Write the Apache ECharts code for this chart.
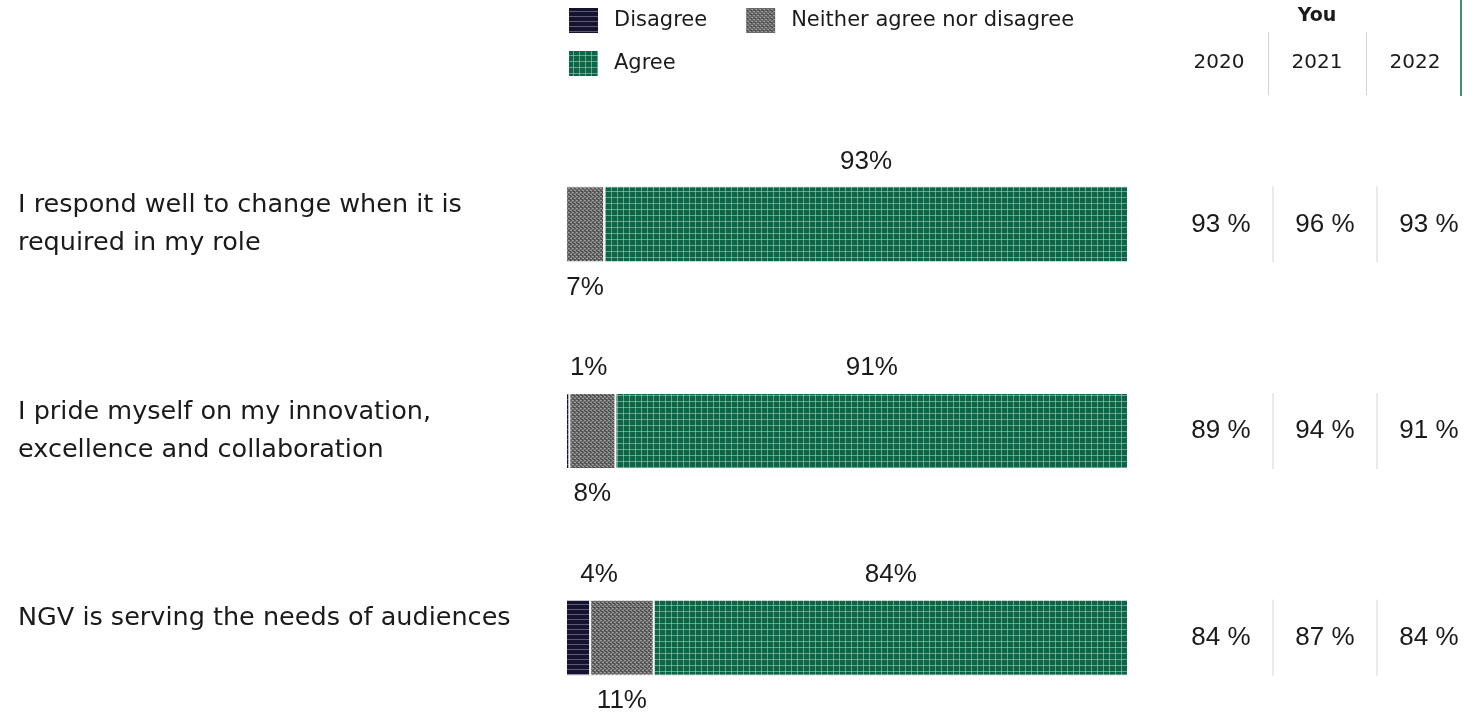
<!DOCTYPE html>
<html>
<head>
<meta charset="utf-8">
<script src="https://cdn.jsdelivr.net/npm/echarts@6/dist/echarts.min.js"></script>
<style>
html,body{margin:0;padding:0;background:#fff;}
#chart{width:1468px;height:713px;}
</style>
</head>
<body>
<div id="chart"></div>
<script>
const categories = [
  "I respond well to change when it is\nrequired in my role",
  "I pride myself on my innovation,\nexcellence and collaboration",
  "NGV is serving the needs of audiences"
];
const seriesNames = ["Disagree", "Neither agree nor disagree", "Agree"];
const disagree = [0, 0.6, 4.3];
const neither = [6.8, 8.2, 11.3];
const agree = [93.2, 91.2, 84.4];
const years = ["2020", "2021", "2022"];
const you2020 = [93, 89, 84];
const you2021 = [96, 94, 87];
const you2022 = [93, 91, 84];
const headerTitle = "You";

const FONT = "'DejaVu Sans', 'Noto Sans', sans-serif";
const NUMFONT = "'Liberation Sans', Arial, sans-serif";
const TXT = "#1a1a1a";

function makePattern(size, draw) {
  const c = document.createElement('canvas');
  c.width = size; c.height = size;
  const ctx = c.getContext('2d');
  draw(ctx, size);
  return { image: c, repeat: 'repeat' };
}
const agreeFill = makePattern(6, (ctx, s) => {
  ctx.fillStyle = '#0b6546'; ctx.fillRect(0, 0, s, s);
  ctx.fillStyle = 'rgba(190,225,205,0.5)';
  ctx.fillRect(5, 0, 1, s); ctx.fillRect(0, 5, s, 1);
});
const disagreeFill = makePattern(5, (ctx, s) => {
  ctx.fillStyle = '#16132e'; ctx.fillRect(0, 0, s, s);
  ctx.fillStyle = '#5d5a78'; ctx.fillRect(0, 4, s, 1);
});
const neitherFill = makePattern(4, (ctx, s) => {
  ctx.fillStyle = '#6a6a6a'; ctx.fillRect(0, 0, s, s);
  ctx.fillStyle = '#9c9c9c';
  ctx.fillRect(0, 0, 2, 1); ctx.fillRect(2, 2, 2, 1);
  ctx.fillStyle = '#4b4b4b';
  ctx.fillRect(2, 0, 1, 1); ctx.fillRect(0, 2, 1, 1); ctx.fillRect(1, 3, 2, 1);
});

const pctLabel = p => { const v = Math.round(p.value); return p.value > 0 ? v + '%' : ''; };
const barLabelStyle = { fontFamily: NUMFONT, fontSize: 26, color: TXT };

const tableData = [];
[you2020, you2021, you2022].forEach((arr, j) => arr.forEach((v, i) => tableData.push([j, i, v])));

const chart = echarts.init(document.getElementById('chart'));
chart.setOption({
  animation: false,
  textStyle: { fontFamily: FONT },
  legend: [
    { data: ["Disagree", "Neither agree nor disagree"], left: 567, top: 6, padding: 0, itemWidth: 31, itemHeight: 27,
      itemGap: 37, icon: 'rect', selectedMode: false,
      textStyle: { fontFamily: FONT, fontSize: 21, color: TXT, padding: [0, 0, 0, 10] } },
    { data: ["Agree"], left: 567, top: 49, padding: 0, itemWidth: 31, itemHeight: 27, icon: 'rect', selectedMode: false,
      textStyle: { fontFamily: FONT, fontSize: 21, color: TXT, padding: [0, 0, 0, 10] } }
  ],
  grid: [
    { left: 566, width: 562, top: 121, height: 620, outerBoundsMode: 'none' },
    { left: 1170, width: 294, top: 32, height: 63, outerBoundsMode: 'none' },
    { left: 1169, width: 312, top: 121, height: 620, outerBoundsMode: 'none' }
  ],
  xAxis: [
    { gridIndex: 0, type: 'value', min: 0, max: 100, show: false },
    { gridIndex: 1, type: 'category', data: years, position: 'top',
      axisLine: { show: false }, axisTick: { show: false },
      axisLabel: { inside: true, margin: 21, fontFamily: FONT, fontSize: 20, color: TXT },
      splitLine: { show: true, showMinLine: false, showMaxLine: false, lineStyle: { color: '#d4d4d4', width: 1 } },
      name: headerTitle, nameLocation: 'middle', nameGap: 6,
      nameTextStyle: { fontFamily: FONT, fontSize: 19, fontWeight: 'bold', color: TXT } },
    { gridIndex: 2, type: 'category', data: years, show: false }
  ],
  yAxis: [
    { gridIndex: 0, type: 'category', data: categories, inverse: true,
      axisLine: { show: false }, axisTick: { show: false },
      axisLabel: { align: 'left', margin: 548, fontFamily: FONT, fontSize: 25.5, lineHeight: 38, color: TXT,
        padding: [6, 0, 0, 0],
        formatter: v => v.indexOf('\n') < 0 ? v + '\n ' : v } },
    { gridIndex: 1, type: 'value', show: false },
    { gridIndex: 2, type: 'category', data: categories, inverse: true, show: false }
  ],
  graphic: [
    { type: 'line', shape: { x1: 1461, y1: 0, x2: 1461, y2: 96 }, style: { stroke: '#0b6546', lineWidth: 1.5 } }
  ],
  series: [
    { name: seriesNames[0], type: 'bar', stack: 'a', xAxisIndex: 0, yAxisIndex: 0, barWidth: 76,
      data: disagree, itemStyle: { color: disagreeFill, borderColor: '#fff', borderWidth: 1 },
      label: { show: true, position: 'top', distance: 12, offset: [21, 0], formatter: pctLabel, ...barLabelStyle } },
    { name: seriesNames[1], type: 'bar', stack: 'a', xAxisIndex: 0, yAxisIndex: 0, barWidth: 76,
      data: neither, itemStyle: { color: neitherFill, borderColor: '#fff', borderWidth: 1 },
      label: { show: true, position: 'bottom', distance: 12, formatter: pctLabel, ...barLabelStyle } },
    { name: seriesNames[2], type: 'bar', stack: 'a', xAxisIndex: 0, yAxisIndex: 0, barWidth: 76,
      data: agree, itemStyle: { color: agreeFill, borderColor: '#fff', borderWidth: 1 },
      label: { show: true, position: 'top', distance: 12, formatter: pctLabel, ...barLabelStyle } },
    { type: 'custom', xAxisIndex: 2, yAxisIndex: 2, data: tableData, silent: true,
      renderItem: (params, api) => {
        const col = api.value(0), row = api.value(1);
        const c = api.coord([col, row]);
        const w = api.size([1, 1])[0];
        const children = [{ type: 'text', style: { x: c[0], y: c[1], text: api.value(2) + ' %',
          align: 'center', verticalAlign: 'middle', fontFamily: NUMFONT, fontSize: 26, fill: TXT } }];
        if (col > 0) children.push({ type: 'line', shape: { x1: c[0] - w / 2, y1: c[1] - 38, x2: c[0] - w / 2, y2: c[1] + 38 },
          style: { stroke: '#d4d4d4', lineWidth: 1 } });
        return { type: 'group', children };
      } }
  ]
});
</script>
</body>
</html>
